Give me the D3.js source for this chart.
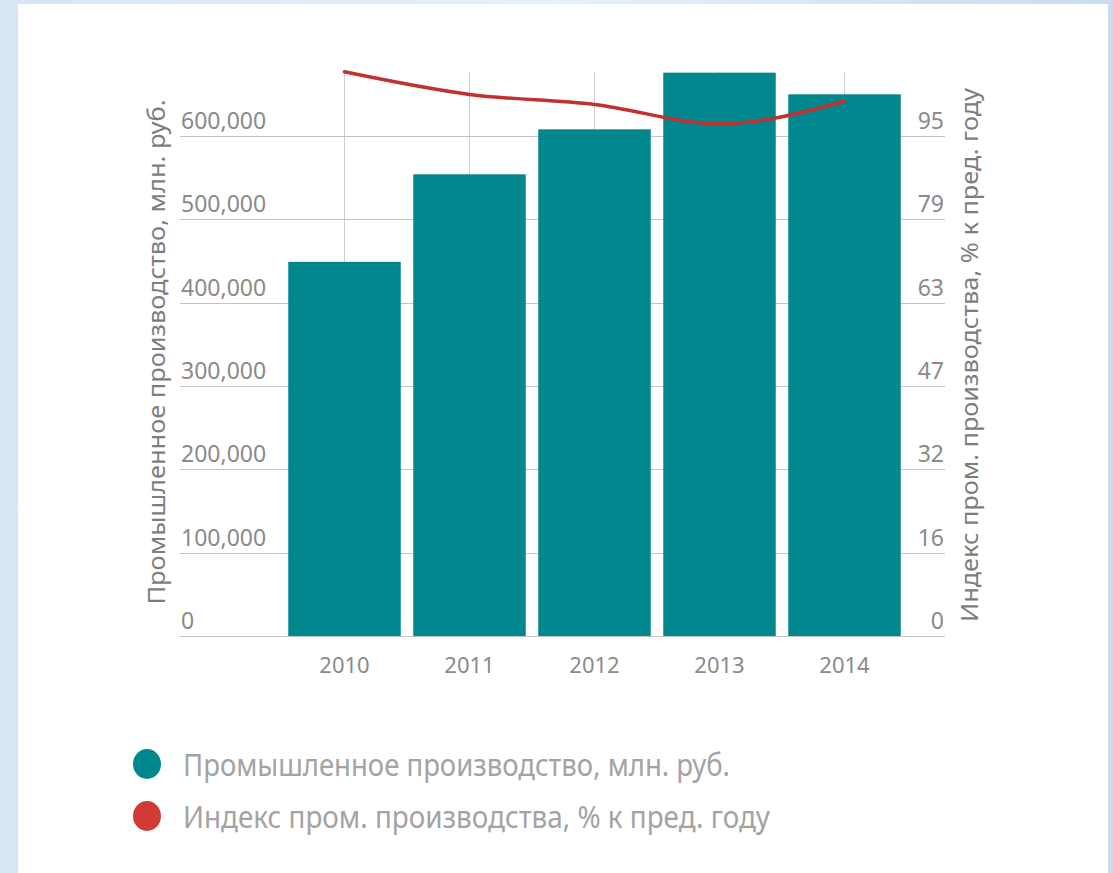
<!DOCTYPE html>
<html><head><meta charset="utf-8">
<script src="https://cdn.jsdelivr.net/npm/d3@7"></script>
<style>
html,body{margin:0;padding:0;background:#dfeaf6;}
svg{display:block;}
text{font-family:"Noto Sans","Open Sans",sans-serif;}
</style></head>
<body>
<svg id="chart" width="1113" height="873"></svg>
<script>
const years = ["2010","2011","2012","2013","2014"];
const production = [449000, 554000, 608000, 676000, 650000];
const indexValues = [107.2, 102.9, 101.0, 97.3, 101.6];
const leftTicks = [0, 100000, 200000, 300000, 400000, 500000, 600000];
const rightTickLabels = ["0","16","32","47","63","79","95"];
const seriesNames = ["Промышленное производство, млн. руб.", "Индекс пром. производства, % к пред. году"];
const leftTitle = "Промышленное производство, млн. руб.";
const rightTitle = "Индекс пром. производства, % к пред. году";

const svg = d3.select("#chart");
const defs = svg.append("defs");
const g1 = defs.append("linearGradient").attr("id","bg").attr("x1","0").attr("x2","1");
g1.append("stop").attr("offset","0").attr("stop-color","#d7e5f4");
g1.append("stop").attr("offset","0.5").attr("stop-color","#e8f0f8");
g1.append("stop").attr("offset","1").attr("stop-color","#c8dcf0");
svg.append("rect").attr("width",1113).attr("height",873).attr("fill","url(#bg)");
svg.append("rect").attr("x",18).attr("y",4).attr("width",1090).attr("height",869).attr("fill","#fff");

const x = d3.scaleBand().domain(years).range([282,907]).paddingInner(0.1).paddingOuter(0.05);
const y = d3.scaleLinear().domain([0,600000]).range([636,136]);
const y2 = d3.scaleLinear().domain([0,95]).range([636,136]);
const plotTop = 72;

// vertical gridlines
svg.append("g").selectAll("line").data(years).join("line")
  .attr("x1",d=>x(d)+x.bandwidth()/2).attr("x2",d=>x(d)+x.bandwidth()/2)
  .attr("y1",plotTop).attr("y2",y(0))
  .attr("stroke","#cfcfcf").attr("stroke-width",1);

// horizontal gridlines
svg.append("g").selectAll("line").data(leftTicks).join("line")
  .attr("x1",180).attr("x2",945).attr("y1",d=>Math.round(y(d))+0.5).attr("y2",d=>Math.round(y(d))+0.5)
  .attr("stroke","#c4c4c4").attr("stroke-width",1);

// left tick labels
const fmt = d3.format(",");
svg.append("g").selectAll("text").data(leftTicks).join("text")
  .attr("x",181).attr("y",d=>y(d)-7)
  .attr("font-size",23).attr("fill","#8a8a8a")
  .text(d=>fmt(d));

// right tick labels
svg.append("g").selectAll("text").data(rightTickLabels).join("text")
  .attr("x",944).attr("y",(d,i)=>y2(i*95/6)-7)
  .attr("text-anchor","end").attr("font-size",23).attr("fill","#8a8a8a")
  .text(d=>d);

// bars
svg.append("g").selectAll("rect").data(years).join("rect")
  .attr("x",d=>x(d)).attr("width",x.bandwidth())
  .attr("y",(d,i)=>y(production[i])).attr("height",(d,i)=>y(0)-y(production[i]))
  .attr("fill","#01888f");

// line
const line = d3.line().x((d,i)=>x(years[i])+x.bandwidth()/2).y(d=>y2(d)).curve(d3.curveMonotoneX);
svg.append("path").datum(indexValues).attr("d",line)
  .attr("fill","none").attr("stroke","#c1312f").attr("stroke-width",3.5).attr("stroke-linecap","round");

// x labels
svg.append("g").selectAll("text").data(years).join("text")
  .attr("x",d=>x(d)+x.bandwidth()/2).attr("y",673)
  .attr("text-anchor","middle").attr("font-size",22).attr("fill","#8a8a8a")
  .text(d=>d);

// axis titles
svg.append("text").attr("transform","translate(165,352) rotate(-90)")
  .attr("text-anchor","middle").attr("font-size",24).attr("fill","#7d7d7d")
  .attr("textLength",505).attr("lengthAdjust","spacingAndGlyphs").text(leftTitle);
svg.append("text").attr("transform","translate(978,355) rotate(-90)")
  .attr("text-anchor","middle").attr("font-size",24).attr("fill","#7d7d7d")
  .attr("textLength",534).attr("lengthAdjust","spacingAndGlyphs").text(rightTitle);

// legend
const legColors = ["#01888f","#d13a35"];
const legLens = [547, 587];
const leg = svg.append("g");
seriesNames.forEach((name,i)=>{
  const cy = 764 + i*52;
  leg.append("ellipse").attr("cx",147).attr("cy",cy).attr("rx",14).attr("ry",15).attr("fill",legColors[i]);
  leg.append("text").attr("x",183).attr("y",cy+12).attr("font-size",30).attr("fill","#a3a3a3")
    .attr("textLength",legLens[i]).attr("lengthAdjust","spacingAndGlyphs").text(name);
});
</script>
</body></html>
